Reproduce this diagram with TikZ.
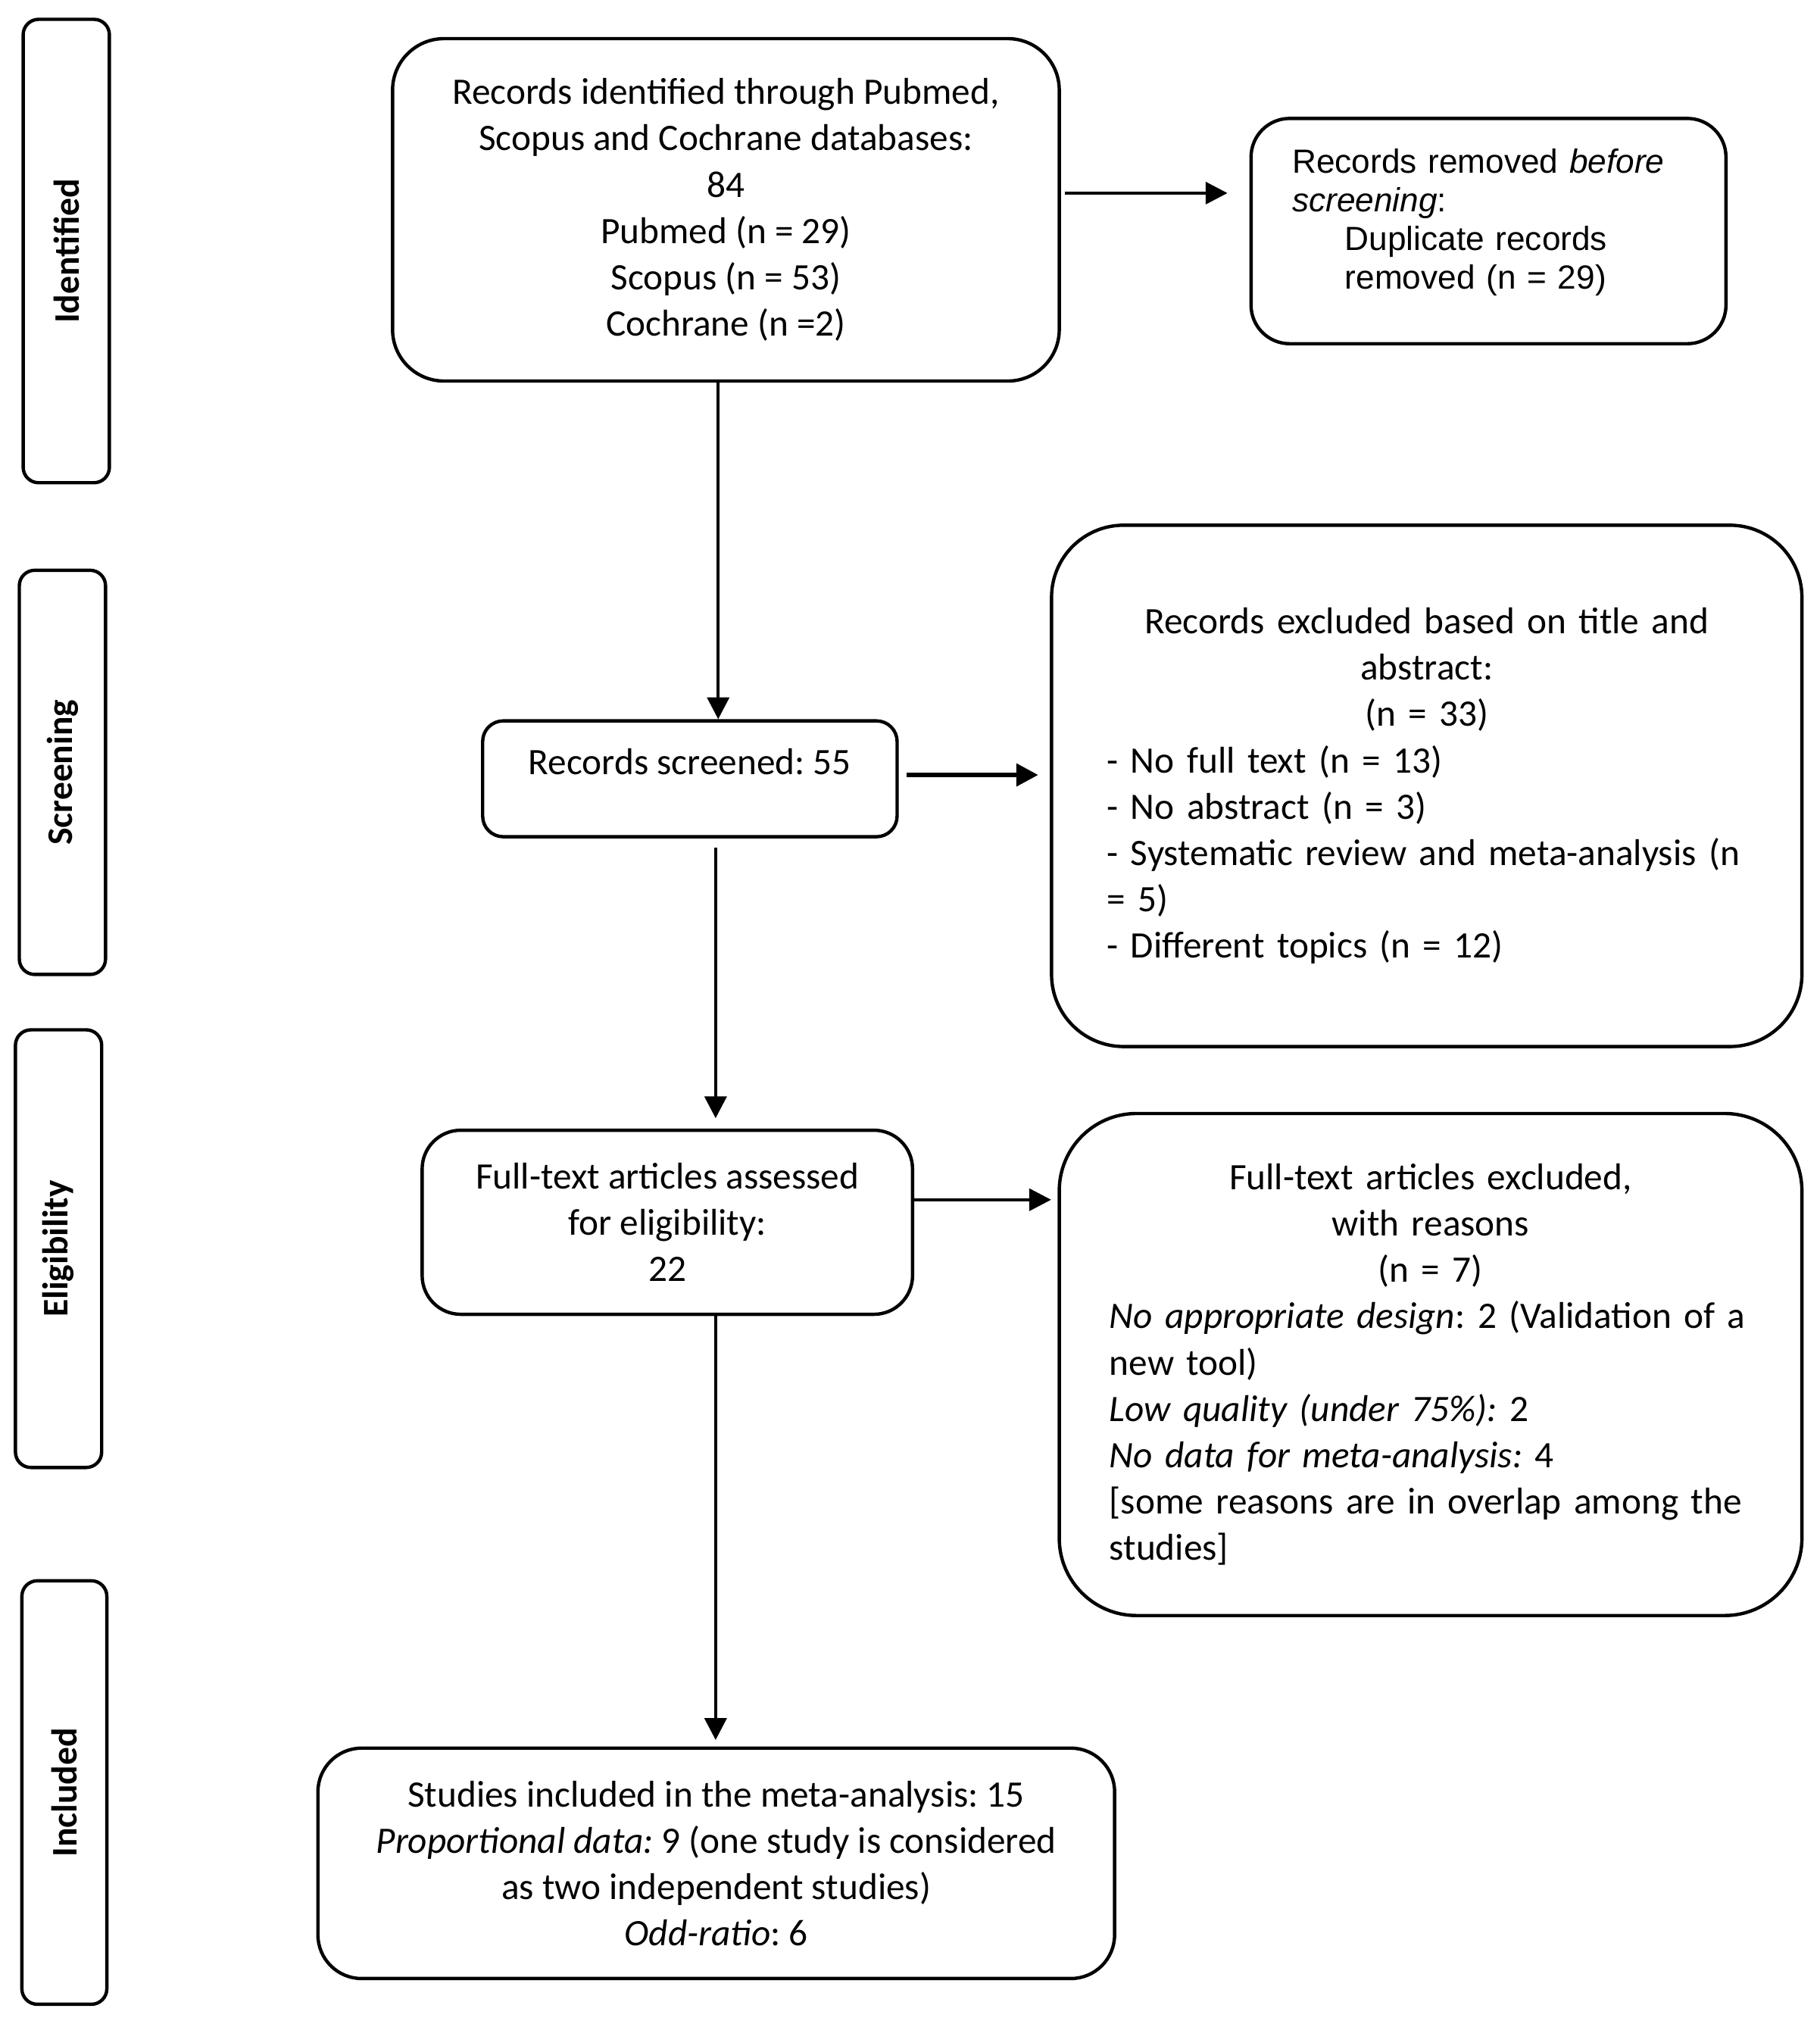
\documentclass[tikz,border=0pt]{standalone}
\usepackage{fontspec}
\setmainfont{Carlito}
\newfontfamily\arialfont{Liberation Sans}
\usetikzlibrary{arrows.meta}
\begin{document}
\frenchspacing
\begin{tikzpicture}[x=0.5pt,y=-0.5pt,
  box/.style={draw, line width=1.3pt, inner sep=0pt, font=\fontsize{14.5pt}{18pt}\selectfont},
  side/.style={draw, line width=1.3pt, rounded corners=6pt, inner sep=0pt, rotate=90, font=\fontsize{14pt}{17pt}\selectfont\bfseries},
  arr/.style={line width=1.3pt, -{Triangle[length=8.5pt,width=8.5pt]}},
]
\useasboundingbox (0,0) rectangle (1414,1570);

% side labels
\node[side, minimum width=180pt, minimum height=33.5pt] (L1) at (51.5,195) {Identified};
\node[side, minimum width=157pt, minimum height=33.5pt] (L2) at (48.5,600) {Screening};
\node[side, minimum width=170pt, minimum height=33.5pt] (L3) at (45.5,970) {Eligibility};
\node[side, minimum width=164.5pt, minimum height=33pt] (L4) at (50,1392.5) {Included};

% main boxes
\node[box, rounded corners=20pt, minimum width=259pt, minimum height=133pt, align=center] (A) at (564,163)
  {Records identified through Pubmed,\\ Scopus and Cochrane databases:\\ 84\\ Pubmed (n = 29)\\ Scopus (n = 53)\\ Cochrane (n =2)};

\node[box, rounded corners=15pt, minimum width=184.5pt, minimum height=87.5pt, text width=152.5pt,
  font=\arialfont\fontsize{13pt}{15pt}\selectfont] (B) at (1156.5,179.5)
  {\raggedright Records removed \textit{before}\\ \textit{screening}:\\ \hspace*{20.5pt}Duplicate records\\ \hspace*{20.5pt}removed (n = 29)\rule[-9.4pt]{0pt}{9.4pt}};

\node[box, rounded corners=8pt, minimum width=161pt, minimum height=45pt] (C) at (536,605)
  {Records screened: 55\rule[-13.4pt]{0pt}{13.4pt}};

\node[box, rounded corners=28pt, minimum width=291.5pt, minimum height=202.5pt, text width=248.5pt] (D) at (1108.5,610.5)
  {{\centering Records excluded based on title and\\ abstract:\\ (n = 33)\par}
   \raggedright - No full text (n = 13)\\ - No abstract (n = 3)\\ \mbox{- Systematic review and meta-analysis (n}\\ = 5)\\ - Different topics (n = 12)};

\node[box, rounded corners=15pt, minimum width=190.5pt, minimum height=71.5pt, align=center] (E) at (518.5,949.5)
  {Full-text articles assessed\\ for eligibility:\\ 22};

\node[box, rounded corners=30pt, minimum width=288.5pt, minimum height=195pt, text width=249.5pt] (F) at (1111.5,1060)
  {{\centering Full-text articles excluded,\\ with reasons\\ (n = 7)\par}
   \raggedright \mbox{\textit{No appropriate design}: 2 (Validation of a}\\ new tool)\\ \textit{Low quality (under 75\%):} 2\\ \textit{No data for meta-analysis:} 4\\ \mbox{{[}some reasons are in overlap among the}\\ studies]};

\node[box, rounded corners=17pt, minimum width=309.5pt, minimum height=89.5pt, align=center] (G) at (556.5,1447.5)
  {Studies included in the meta-analysis: 15\\ \textit{Proportional data:} 9 (one study is considered\\ as two independent studies)\\ \textit{Odd-ratio}: 6};

% helper coordinates
\coordinate (x1) at (558,0);
\coordinate (x2) at (556,0);
\coordinate (y1) at (0,150);
\coordinate (y2) at (0,602);
\coordinate (y3) at (0,932);

% connectors
\draw[arr] (A.south -| x1) -- (C.north -| x1);
\draw[arr, shorten <=3.5pt, shorten >=4pt] (C.south -| x2) -- (E.north -| x2);
\draw[arr, shorten >=2.5pt] (E.south -| x2) -- (G.north -| x2);
\draw[arr, shorten <=1.5pt, shorten >=8.5pt] (A.east |- y1) -- (B.west |- y1);
\draw[arr, line width=1.9pt, shorten <=3pt, shorten >=4.5pt] (C.east |- y2) -- (D.west |- y2);
\draw[arr, shorten >=2.5pt] (E.east |- y3) -- (F.west |- y3);
\end{tikzpicture}
\end{document}
